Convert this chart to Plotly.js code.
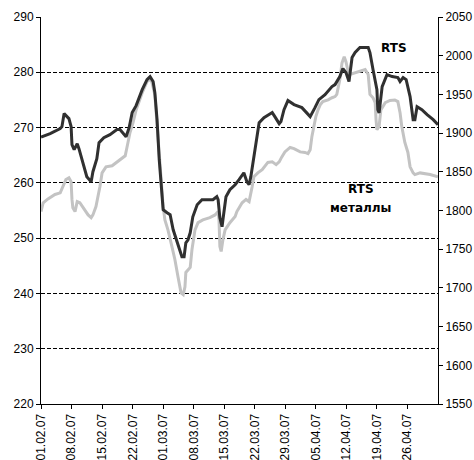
<!DOCTYPE html>
<html>
<head>
<meta charset="utf-8">
<script src="https://cdn.plot.ly/plotly-3.0.1.min.js"></script>
<style>html,body{margin:0;padding:0;background:#fff;}#chart{width:474px;height:460px;}</style>
</head>
<body>
<div id="chart"></div>
<script>
// Tick labels (weekly dates), day offsets from 01.02.07
const tickLabels = ['01.02.07','08.02.07','15.02.07','22.02.07','01.03.07','08.03.07','15.03.07','22.03.07','29.03.07','05.04.07','12.04.07','19.04.07','26.04.07'];
const tickDays = [0,7,14,21,28,35,42,49,56,63,70,77,84];

// RTS index (right axis): day offset and value
const rtsDays = [0,2.1,4.4,4.8,5.3,5.7,6.4,6.9,7.1,7.6,8.3,8.7,9.6,10.5,11.5,11.9,12.8,13.3,14.4,15.8,17.4,18.1,19.5,20.2,20.9,21.8,23.2,24.3,25.0,25.7,26.1,26.6,27.1,27.5,28.0,28.9,29.6,30.3,31.2,32.3,32.8,33.2,33.7,34.2,34.8,35.8,36.9,39.4,40.3,40.6,41.0,41.5,41.7,42.4,43.3,44.5,45.4,46.5,47.2,47.7,48.1,48.8,49.3,50.0,51.1,53.0,53.6,54.6,55.0,55.7,56.6,58.0,59.8,61.4,61.7,62.8,63.7,65.1,66.7,67.4,68.5,69.2,69.9,70.6,71.3,72.0,73.1,75.0,75.4,76.1,77.0,77.2,77.5,78.2,79.3,80.5,81.8,82.3,83.0,83.7,84.6,85.3,85.7,86.2,87.3,88.5,89.9,91.0];
const rtsValues = [1894.8,1899.3,1905.8,1908.3,1925.2,1922.6,1918.7,1908.4,1885.1,1878.6,1886.3,1879.9,1861.8,1843.7,1837.2,1850.1,1866.9,1887.6,1894.1,1898.0,1904.5,1904.5,1895.4,1907.0,1926.5,1935.5,1956.2,1969.1,1973.0,1966.6,1952.3,1917.4,1865.6,1839.8,1801.0,1797.1,1794.5,1775.1,1758.3,1740.2,1740.2,1758.3,1762.2,1771.2,1791.9,1807.4,1813.9,1813.9,1817.8,1813.9,1790.6,1779.0,1788.0,1817.8,1826.8,1833.3,1839.8,1848.8,1837.2,1833.3,1843.7,1869.5,1891.5,1913.5,1920.0,1926.5,1921.3,1912.2,1914.8,1930.3,1942.0,1936.8,1932.9,1923.9,1921.3,1932.9,1943.3,1949.7,1960.1,1962.7,1973.0,1983.4,1978.2,1966.6,1997.6,2004.1,2010.5,2010.5,2004.1,1982.1,1956.2,1930.3,1926.2,1960.1,1975.6,1973.0,1971.7,1966.6,1971.7,1969.1,1947.2,1917.4,1917.4,1934.2,1930.3,1923.9,1917.4,1910.9];

// RTS metals index (left axis)
const metDays = [0,0.5,1.6,3.2,4.4,5.0,5.7,6.4,6.9,7.1,7.3,7.8,8.3,8.9,9.9,10.8,11.5,11.9,12.6,13.1,13.5,14.0,14.9,16.3,17.4,18.6,19.3,19.7,20.4,21.1,21.8,23.2,24.3,24.8,25.4,26.1,26.6,27.3,28.0,28.4,29.1,30.0,30.7,31.4,32.1,32.6,33.0,33.2,33.7,34.2,34.6,35.3,36.0,37.1,38.7,39.9,40.6,40.8,41.0,41.3,41.7,42.2,43.3,44.5,44.9,46.1,47.0,47.7,48.4,48.8,49.7,50.7,52.0,53.0,53.9,54.6,55.2,55.9,57.1,58.0,59.4,60.5,61.2,61.7,62.1,62.6,63.0,63.5,64.0,64.6,65.8,66.7,67.4,67.8,68.5,69.0,69.5,69.9,70.4,70.8,72.0,73.1,74.3,75.0,75.4,76.1,76.6,76.8,77.0,77.5,77.9,78.9,80.0,81.1,81.8,82.3,82.7,83.4,84.1,84.6,85.3,85.7,86.9,89.2,91.0];
const metValues = [254.8,256.4,257.1,257.9,258.2,259.3,260.6,260.9,260.2,257.0,255.5,254.8,256.6,256.4,255.3,254.2,253.7,254.2,255.7,257.5,259.3,261.8,262.9,263.1,263.8,264.6,264.9,266.4,269.1,270.9,273.2,276.3,278.3,278.7,278.3,275.9,270.1,262.4,255.7,253.3,251.5,248.5,246.1,243.0,240.1,239.8,241.2,243.8,244.3,244.7,247.9,251.5,252.8,253.3,253.7,254.2,254.8,253.3,248.5,247.6,249.7,251.5,252.8,253.9,254.8,256.4,257.0,256.6,259.3,261.1,261.8,262.4,263.7,263.8,263.3,263.8,264.7,265.6,266.4,266.2,265.6,265.5,265.3,266.0,268.4,270.5,272.0,273.2,274.1,274.7,275.0,275.4,275.6,276.0,278.7,281.7,282.8,281.9,280.1,279.6,279.9,280.1,280.5,279.6,276.0,275.4,274.5,271.4,269.6,270.2,273.2,274.5,274.9,275.0,274.7,272.7,270.2,267.3,265.5,262.9,261.8,261.5,261.8,261.5,261.1];

const seriesNames = ['RTS', 'RTS', 'металлы'];

const traces = [
  {x: metDays, y: metValues, type: 'scatter', mode: 'lines', name: 'RTS металлы',
   line: {color: '#c3c3c3', width: 3}, yaxis: 'y'},
  {x: rtsDays, y: rtsValues, type: 'scatter', mode: 'lines', name: 'RTS',
   line: {color: '#303030', width: 3}, yaxis: 'y2'}
];

const tickFont = {family: 'Liberation Sans, Arial, sans-serif', size: 12, color: '#000'};
const labelFont = {family: 'DejaVu Sans, Verdana, sans-serif', size: 12, color: '#000'};

const layout = {
  width: 474, height: 460,
  margin: {l: 41, r: 36, t: 17, b: 56},
  paper_bgcolor: '#fff', plot_bgcolor: '#fff',
  showlegend: false,
  xaxis: {
    range: [0, 91], tickvals: tickDays, ticktext: tickLabels, tickangle: -90,
    showgrid: false, zeroline: false, showline: true, linecolor: '#000', linewidth: 1,
    ticks: 'outside', ticklen: 4, tickcolor: '#000', tickfont: tickFont
  },
  yaxis: {
    range: [220, 290], dtick: 10, tick0: 220,
    showgrid: true, gridcolor: '#000', griddash: '4px,2px', gridwidth: 1,
    zeroline: false, showline: true, linecolor: '#000', linewidth: 1,
    ticks: 'outside', ticklen: 4, tickcolor: '#000', tickfont: tickFont
  },
  yaxis2: {
    range: [1550, 2050], dtick: 50, tick0: 1550, overlaying: 'y', side: 'right',
    showgrid: false, zeroline: false, showline: true, linecolor: '#000', linewidth: 1,
    ticks: 'outside', ticklen: 4, tickcolor: '#000', tickfont: tickFont
  },
  annotations: [
    {x: 80.9, y: 284.45, xref: 'x', yref: 'y', text: '<b>' + seriesNames[0] + '</b>', showarrow: false, font: labelFont},
    {x: 73.4, y: 258.8, xref: 'x', yref: 'y', text: '<b>' + seriesNames[1] + '</b>', showarrow: false, font: labelFont},
    {x: 73.3, y: 255.5, xref: 'x', yref: 'y', text: '<b>' + seriesNames[2] + '</b>', showarrow: false, font: labelFont}
  ]
};

Plotly.newPlot('chart', traces, layout, {displayModeBar: false, staticPlot: true});
</script>
</body>
</html>
